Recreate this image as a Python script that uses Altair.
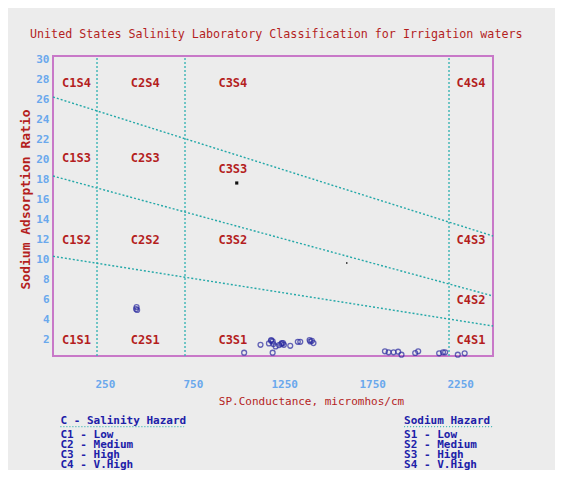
import altair as alt
import pandas as pd

# ---- data ----
sample_ec = [1086, 1179, 1227, 1239, 1248, 1265, 1248, 1284, 1297, 1307, 1312, 1348,
             1391, 1405, 1458, 1471, 1480, 1240, 1252, 1300, 1462, 1886, 1907, 1935,
             1961, 1980, 2058, 2075, 2194, 2216, 2228, 2300, 2339, 475, 478, 472]
sample_sar = [0.63, 1.42, 1.56, 1.82, 1.76, 1.26, 0.63, 1.39, 1.49, 1.59, 1.42, 1.32,
              1.72, 1.72, 1.89, 1.82, 1.59, 1.90, 1.50, 1.60, 1.75, 0.77, 0.67, 0.67,
              0.73, 0.43, 0.60, 0.77, 0.57, 0.67, 0.67, 0.43, 0.57, 5.2, 4.9, 5.0]
black_ec = [1044, 1669]
black_sar = [17.6, 9.6]
black_size = [10, 2]

salinity_bounds = [250, 750, 2250]
sodium_line_x0 = [0, 0, 0]
sodium_line_x1 = [2500, 2500, 2500]
sodium_line_y0 = [10.27, 18.3, 26.2]
sodium_line_y1 = [3.3, 6.3, 12.3]

class_labels = ["C1S4", "C2S4", "C3S4", "C4S4",
                "C1S3", "C2S3", "C3S3",
                "C1S2", "C2S2", "C3S2", "C4S3",
                "C4S2",
                "C1S1", "C2S1", "C3S1", "C4S1"]
class_x = [133, 524, 1022, 2375,
           133, 524, 1022,
           133, 524, 1022, 2375,
           2375,
           133, 524, 1022, 2375]
class_y = [27.6, 27.6, 27.6, 27.6,
           20.1, 20.1, 19.0,
           11.9, 11.9, 11.9, 11.9,
           5.9,
           1.9, 1.9, 1.9, 1.9]

x_ticks = [250, 750, 1250, 1750, 2250]
y_ticks = [2, 4, 6, 8, 10, 12, 14, 16, 18, 20, 22, 24, 26, 28, 30]

legend_left = ["C - Salinity Hazard", "C1 - Low", "C2 - Medium", "C3 - High", "C4 - V.High"]
legend_right = ["Sodium Hazard", "S1 - Low", "S2 - Medium", "S3 - High", "S4 - V.High"]
legend_rows_y = [-6.17, -7.6, -8.6, -9.63, -10.63]
legend_left_x = 42
legend_right_x = 1995
underline_left = [42, 745]
underline_right = [1995, 2495]
underline_y = -6.77

RED = "#b41e1e"
BLUE_TXT = "#2020a8"
TEAL = "#3ab4b4"
FONT = "DejaVu Sans Mono"

xs = alt.Scale(domain=[0, 2500], nice=False, zero=False)
ys = alt.Scale(domain=[0.3, 30.3], nice=False, zero=False)

# ---- tables ----
pts = pd.DataFrame({"ec": sample_ec, "sar": sample_sar})
blk = pd.DataFrame({"ec": black_ec, "sar": black_sar, "s": black_size})
vlines = pd.DataFrame({"x": salinity_bounds, "y0": [0.3] * 3, "y1": [30.3] * 3})
slines = pd.DataFrame({"x0": sodium_line_x0, "x1": sodium_line_x1,
                       "y0": sodium_line_y0, "y1": sodium_line_y1})
lbl = pd.DataFrame({"t": class_labels, "x": class_x, "y": class_y})
leg = pd.DataFrame({
    "t": legend_left + legend_right,
    "x": [legend_left_x] * 5 + [legend_right_x] * 5,
    "y": legend_rows_y * 2,
})
und = pd.DataFrame({"x0": [underline_left[0], underline_right[0]],
                    "x1": [underline_left[1], underline_right[1]],
                    "y": [underline_y, underline_y]})

x_axis = alt.Axis(values=x_ticks, tickCount=len(x_ticks), format="d",
                  title="SP.Conductance, micromhos/cm",
                  grid=False, domain=False, ticks=False, labelOverlap=False,
                  labelAlign="left", labelOffset=-2, labelPadding=22,
                  labelColor="#6aa8ec", labelFont=FONT, labelFontSize=11,
                  labelFontWeight="bold",
                  titleColor=RED, titleFont=FONT, titleFontSize=11,
                  titleFontWeight="normal", titleX=258, titleY=45,
                  titleBaseline="middle")
y_axis = alt.Axis(values=y_ticks, tickCount=len(y_ticks), title="Sodium Adsorption Ratio",
                  grid=False, domain=False, ticks=False, labelPadding=4,
                  labelOverlap=False, labelSeparation=0,
                  labelColor="#6aa8ec", labelFont=FONT, labelFontSize=11,
                  labelFontWeight="bold",
                  titleColor=RED, titleFont=FONT, titleFontSize=13,
                  titleFontWeight="bold", titlePadding=3, titleY=143)


def X(f):
    return alt.X(f, scale=xs)


def Y(f):
    return alt.Y(f, scale=ys)


vl = alt.Chart(vlines).mark_rule(color=TEAL, strokeDash=[2, 2], strokeWidth=1.4).encode(
    x=alt.X("x:Q", scale=xs, axis=x_axis),
    y=alt.Y("y0:Q", scale=ys, axis=y_axis), y2="y1:Q")

sl = alt.Chart(slines).mark_rule(color="#24a8a8", strokeDash=[2, 2], strokeWidth=1.4).encode(
    x=X("x0:Q"), x2="x1:Q", y=Y("y0:Q"), y2="y1:Q")

points = alt.Chart(pts).mark_point(shape="circle", filled=False, color="#2a2aa0",
                                   size=24, strokeWidth=1.3).encode(x=X("ec:Q"), y=Y("sar:Q"))

blacks = alt.Chart(blk).mark_square(color="#111111", opacity=1).encode(
    x=X("ec:Q"), y=Y("sar:Q"), size=alt.Size("s:Q", scale=None, legend=None))

labels = alt.Chart(lbl).mark_text(color=RED, font=FONT, fontSize=12, fontWeight="bold",
                                  baseline="middle", align="center").encode(
    x=X("x:Q"), y=Y("y:Q"), text="t:N")

legend = alt.Chart(leg).mark_text(color=BLUE_TXT, font=FONT, fontSize=11, fontWeight="bold",
                                  baseline="middle", align="left").encode(
    x=X("x:Q"), y=Y("y:Q"), text="t:N")

underline = alt.Chart(und).mark_rule(color=TEAL, strokeDash=[1, 2], strokeWidth=1.2).encode(
    x=X("x0:Q"), x2="x1:Q", y=Y("y:Q"))

chart = alt.layer(vl, sl, points, blacks, labels, legend, underline).properties(
    width=440, height=300,
    background="#ececec",
    autosize=alt.AutoSizeParams(type="none"),
    padding={"left": 45, "top": 48, "right": 62, "bottom": 114},
    title=alt.TitleParams(
        "United States Salinity Laboratory Classification for Irrigation waters",
        anchor="start", frame="group", dx=-23, offset=12, font=FONT, fontSize=11.7,
        fontWeight="normal", color=RED),
).configure_view(stroke="#c878c8", strokeWidth=2)

chart.save("out.html", embed_options={"renderer": "svg", "actions": False})
